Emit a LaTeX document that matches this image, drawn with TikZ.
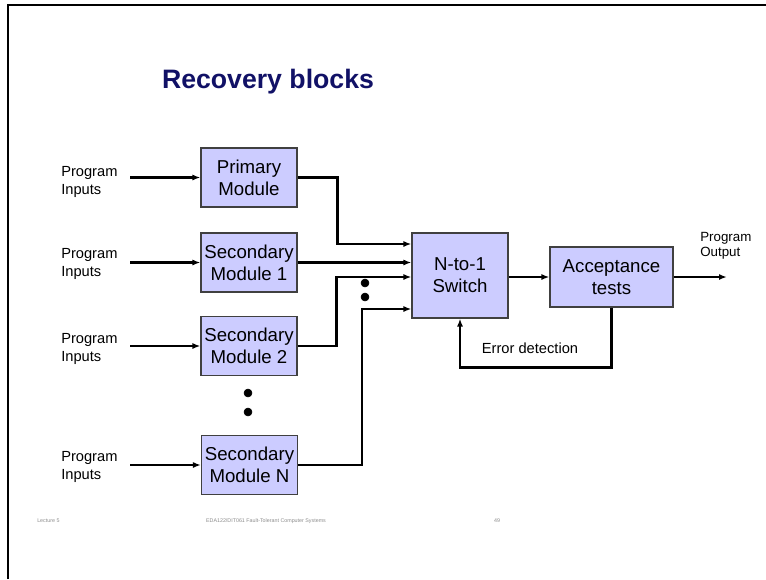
\documentclass[tikz,border=0pt]{standalone}
\usepackage{fontspec}
\setmainfont{Liberation Sans}
\usetikzlibrary{arrows.meta,calc}
\definecolor{boxfill}{RGB}{204,204,255}
\definecolor{titleblue}{RGB}{17,17,102}
\tikzset{
	module/.style={
			draw=black!75, fill=boxfill, line width=0.8pt, align=center, inner sep=1pt,
			minimum width=72pt, minimum height=44.25pt, font=\fontsize{14}{16.5}\selectfont
		},
	wire/.style={-{Latex[length=6pt,width=4.5pt]}, line width=1.8pt},
	inlabel/.style={anchor=west, align=left, inner sep=0pt, font=\fontsize{11}{13.5}\selectfont},
	footer/.style={inner sep=0pt, text=black!45, font=\fontsize{4}{5}\selectfont}
}

\begin{document}
\begin{tikzpicture}[x=0.75pt, y=-0.75pt]
		\useasboundingbox (0,0) rectangle (766,579);
		% slide frame
		\draw [line width=2pt]	(8,579) -- (8,5) -- (766,5);
		\node [anchor=base, text=titleblue, font=\fontsize{20}{24}\selectfont\bfseries] (title) at (268,88) {Recovery blocks};

		% modules
		\node [module] (prim) at (249,177.5) {Primary\\Module};
		\node [module] (sec1) at (249,262.5) {Secondary\\Module 1};
		\node [module] (sec2) at (249,346) {Secondary\\Module 2};
		\node [module] (secN) at (249.5,465) {Secondary\\Module N};
		\node [module, minimum height=63.75pt] (sw) at (460,275.5) {N-to-1\\Switch};
		\node [module, minimum width=92.25pt, minimum height=45pt] (acc) at (611.5,277) {Acceptance\\tests};

		% program inputs
		\node [inlabel] (lab1) at (61,182) {Program\\Inputs};
		\node [inlabel] (lab2) at (61,263.5) {Program\\Inputs};
		\node [inlabel] (lab3) at (61,348.5) {Program\\Inputs};
		\node [inlabel] (labN) at (61,467) {Program\\Inputs};
		\coordinate (in1) at (130,177.5);
		\coordinate (in2) at (130,262.5);
		\coordinate (in3) at (130,346);
		\coordinate (inN) at (130,465);
		\draw [wire]	(in1) -- (prim);
		\draw [wire]	(in2) -- (sec1);
		\draw [wire]	(in3) -- (sec2);
		\draw [wire]	(inN) -- (secN);

		% into the switch
		\draw [wire]	(prim.east) -- ++(40,0) |- ($(sw.west)+(0,-31.5)$);
		\draw [wire]	(sec1.east) -- (sec1.east -| sw.west);
		\draw [wire]	(sec2.east) -- ++(39,0) |- ($(sw.west)+(0,1.5)$);
		\draw [wire]	(secN.east) -- ++(64,0) |- ($(sw.west)+(0,33.5)$);
		\draw [wire]	(sw.east |- acc.west) -- (acc.west);

		% output
		\coordinate (out) at (727,277);
		\draw [wire]	(acc.east) -- (out);
		\node [inlabel, font=\fontsize{10}{11.5}\selectfont] (outlab) at (700,245.5) {Program\\Output};

		% error detection loop
		\draw [wire]	(acc.south) -- ++(0,60) -| (sw.south);
		\node [font=\fontsize{11}{13}\selectfont] (err) at (530,348) {Error detection};

		% dots
		\filldraw [black]	(248,393) circle (3pt)
							(248,412) circle (3pt)
							(365,283) circle (3pt)
							(365,297) circle (3pt);

		% footer
		\node [footer, anchor=west] (lect) at (37,521) {Lecture 5};
		\node [footer] (course) at (266,521) {EDA122/DIT061 Fault-Tolerant Computer Systems};
		\node [footer] (page) at (497,521) {49};
	\end{tikzpicture}
\end{document}
